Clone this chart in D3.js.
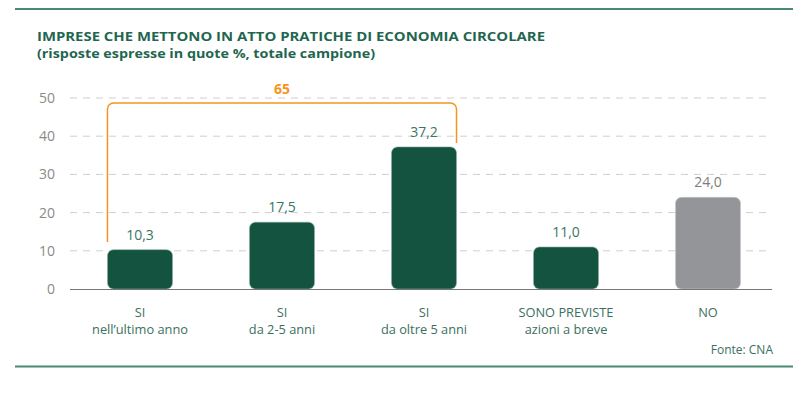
<!DOCTYPE html>
<html>
<head>
<meta charset="utf-8">
<script src="https://cdn.jsdelivr.net/npm/d3@7"></script>
<style>
  body { margin: 0; background: #fff; }
  svg { display: block; font-family: "Open Sans", sans-serif; }
  .grid line { stroke: #cfcfcf; stroke-dasharray: 7,6; }
  .tick-label { fill: #8a8a8a; font-size: 14px; }
  .cat-label { fill: #3b6f5e; font-size: 12.8px; }
</style>
</head>
<body>
<svg id="chart" width="800" height="395"></svg>
<script>
// DATA
var categories = ["SI|nell\u2019ultimo anno", "SI|da 2-5 anni", "SI|da oltre 5 anni", "SONO PREVISTE|azioni a breve", "NO"];
var values = [10.3, 17.5, 37.2, 11.0, 24.0];
var yTicks = [0, 10, 20, 30, 40, 50];
var bracketLabel = "65";

var svg = d3.select("#chart");
var green = "#14533f";
var grey = "#939598";
var orange = "#f7941d";
var lineGreen = "#4a8a73";

var x = d3.scaleBand()
    .domain(categories)
    .range([69, 779])
    .paddingInner(0.542)
    .paddingOuter(0.271);

var y = d3.scaleLinear()
    .domain([0, 50])
    .range([289, 98]);

// top / bottom rules
svg.append("line").attr("x1", 15).attr("x2", 793).attr("y1", 9).attr("y2", 9)
    .attr("stroke", lineGreen).attr("stroke-width", 2);
svg.append("line").attr("x1", 15).attr("x2", 793).attr("y1", 366.5).attr("y2", 366.5)
    .attr("stroke", lineGreen).attr("stroke-width", 2);

// titles
svg.append("text").attr("x", 37).attr("y", 41)
    .attr("fill", "#1f6650").attr("font-weight", 700).attr("font-size", "12.5px")
    .attr("textLength", 508).attr("lengthAdjust", "spacingAndGlyphs")
    .text("IMPRESE CHE METTONO IN ATTO PRATICHE DI ECONOMIA CIRCOLARE");
svg.append("text").attr("x", 37).attr("y", 57.5)
    .attr("fill", "#1f6650").attr("font-weight", 700).attr("font-size", "12.5px")
    .attr("textLength", 338).attr("lengthAdjust", "spacingAndGlyphs")
    .text("(risposte espresse in quote %, totale campione)");

// grid
var grid = svg.append("g").attr("class", "grid");
grid.selectAll("line")
    .data(yTicks.filter(function(d) { return d > 0; }))
    .enter().append("line")
    .attr("x1", 70).attr("x2", 772)
    .attr("y1", function(d) { return y(d); })
    .attr("y2", function(d) { return y(d); });

// y tick labels
svg.selectAll(".tick-label")
    .data(yTicks)
    .enter().append("text")
    .attr("class", "tick-label")
    .attr("x", 55)
    .attr("y", function(d) { return y(d); })
    .attr("dy", "0.35em")
    .attr("text-anchor", "end")
    .text(function(d) { return d; });

// bars
svg.selectAll(".bar")
    .data(values)
    .enter().append("rect")
    .attr("class", "bar")
    .attr("x", function(d, i) { return x(categories[i]); })
    .attr("y", function(d) { return y(d); })
    .attr("width", x.bandwidth())
    .attr("height", function(d) { return y(0) - y(d); })
    .attr("rx", 6).attr("ry", 6)
    .attr("fill", function(d, i) { return i === 4 ? grey : green; })
    .attr("stroke", function(d, i) { return i === 4 ? "#c5c6c8" : "#8fb0a4"; })
    .attr("stroke-width", 0.6);

// baseline
svg.append("line").attr("x1", 70).attr("x2", 772).attr("y1", y(0) + 0.5).attr("y2", y(0) + 0.5)
    .attr("stroke", "#777").attr("stroke-width", 1.2);

// value labels
svg.selectAll(".val")
    .data(values)
    .enter().append("text")
    .attr("class", "val")
    .attr("x", function(d, i) { return x(categories[i]) + x.bandwidth() / 2; })
    .attr("y", function(d) { return y(d) - 10; })
    .attr("text-anchor", "middle")
    .attr("font-size", "14px")
    .attr("fill", function(d, i) { return i === 4 ? "#7d7d7d" : "#3b7663"; })
    .text(function(d) { return d.toFixed(1).replace(".", ","); });

// category labels, one text per line
categories.forEach(function(c) {
    var cx = x(c) + x.bandwidth() / 2;
    svg.append("g").selectAll("text")
        .data(c.split("|"))
        .enter().append("text")
        .attr("class", "cat-label")
        .attr("text-anchor", "middle")
        .attr("x", cx)
        .attr("y", function(d, i) { return 317 + i * 16.5; })
        .text(function(d) { return d; });
});

// bracket over the first three bars
var bx1 = x(categories[0]);
var bx2 = x(categories[2]) + x.bandwidth();
var by = 103, r = 6;
var path = d3.path();
path.moveTo(bx1, 242);
path.lineTo(bx1, by + r);
path.arcTo(bx1, by, bx1 + r, by, r);
path.lineTo(bx2 - r, by);
path.arcTo(bx2, by, bx2, by + r, r);
path.lineTo(bx2, 143);
svg.append("path").attr("d", path.toString())
    .attr("fill", "none").attr("stroke", orange).attr("stroke-width", 1.5);
svg.append("text")
    .attr("x", (x(categories[1]) + x.bandwidth() / 2))
    .attr("y", 94)
    .attr("text-anchor", "middle")
    .attr("font-weight", 700).attr("font-size", "14px")
    .attr("fill", orange)
    .text(bracketLabel);

// source
svg.append("text").attr("x", 773).attr("y", 354)
    .attr("text-anchor", "end").attr("font-size", "12px").attr("fill", "#3b6f5e")
    .text("Fonte: CNA");
</script>
</body>
</html>
